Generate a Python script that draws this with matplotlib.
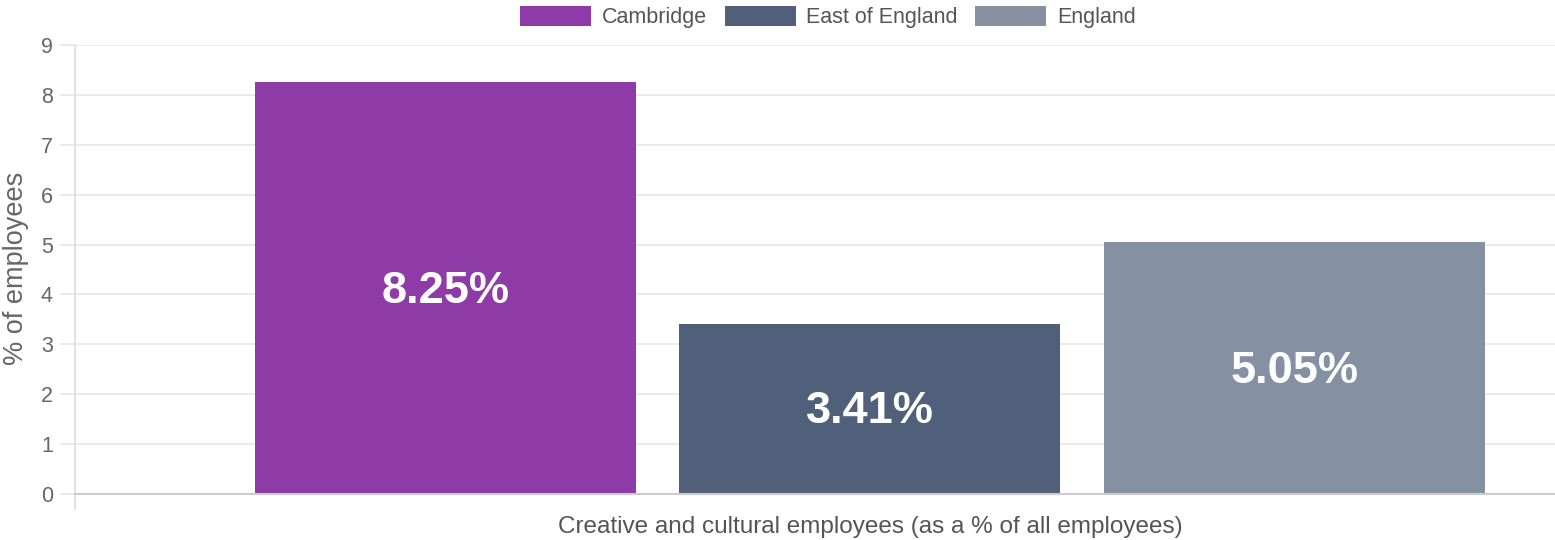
import matplotlib.pyplot as plt
from matplotlib.patches import Patch
from matplotlib.lines import Line2D

plt.rcParams['font.family'] = ['Liberation Sans', 'DejaVu Sans']

areas = ['Cambridge', 'East of England', 'England']
values = [8.25, 3.41, 5.05]
colors = ['#8e3ba8', '#51607a', '#8591a3']
yticks = [0, 1, 2, 3, 4, 5, 6, 7, 8, 9]
category = 'Creative and cultural employees (as a % of all employees)'

fig = plt.figure(figsize=(15.55, 5.4), dpi=100)
ax = fig.add_axes([75 / 1555, 1 - 494 / 540, 1 - 75 / 1555, (494 - 45) / 540])

xs = list(range(len(areas)))
bars = ax.bar(xs, values, width=0.8975, color=colors, zorder=2)
for b, v in zip(bars, values):
    ax.text(b.get_x() + b.get_width() / 2, v / 2 - 0.06, f'{v:.2f}%',
            ha='center', va='center', color='white', fontsize=32.5,
            fontweight='bold', zorder=3)

ax.set_xlim(-0.873, 2.614)
ax.set_ylim(0, 9)
ax.set_yticks(yticks)
ax.yaxis.grid(True, color='#e6e6e6', linewidth=1.2, zorder=0)
ax.set_xticks([])
ax.tick_params(axis='y', length=11, width=1.2, color='#e6e6e6',
               labelsize=15.5, labelcolor='#666666', pad=5)
for s in ['top', 'right']:
    ax.spines[s].set_visible(False)
ax.spines['left'].set_color('#dddddd')
ax.spines['left'].set_linewidth(1.2)
ax.spines['bottom'].set_color('#cccccc')
ax.spines['bottom'].set_linewidth(1.5)
ax.spines['bottom'].set_zorder(4)

# category boundary tick hanging below the axis
ax.add_line(Line2D([0, 0], [0, -0.3], transform=ax.get_yaxis_transform(),
                   color='#dddddd', linewidth=1.2, clip_on=False))

fig.text(16 / 1555, 1 - 268 / 540, '% of employees', rotation=90,
         ha='center', va='center', fontsize=19.5, color='#666666')
fig.text(870.5 / 1555, 1 - 527 / 540, category, ha='center', va='center',
         fontsize=17.5, color='#555555')

handles = [Patch(facecolor=c, label=a) for a, c in zip(areas, colors)]
fig.legend(handles=handles, loc='center', bbox_to_anchor=(828 / 1555, 1 - 17 / 540),
           ncol=3, frameon=False, fontsize=15.5, handlelength=3.3, handleheight=1.1,
           columnspacing=0.8, handletextpad=0.5, labelcolor='#555555')

fig.savefig('out.png', dpi=100)
